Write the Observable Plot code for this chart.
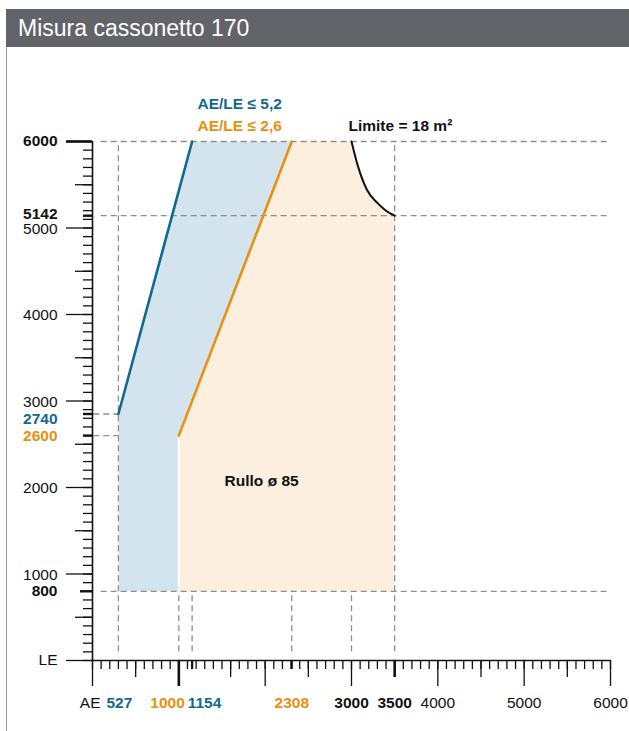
<!DOCTYPE html>
<html>
<head>
<meta charset="utf-8">
<script src="https://cdn.jsdelivr.net/npm/d3@7"></script>
<script src="https://cdn.jsdelivr.net/npm/@observablehq/plot@0.6"></script>
<style>
  html, body { margin: 0; padding: 0; background: #fff; }
  #page { position: relative; width: 629px; height: 731px; overflow: hidden; font-family: 'Liberation Sans', Arial, Helvetica, sans-serif; }
  #title { position: absolute; left: 6px; top: 9px; right: 0; height: 38px; background: #636469; color: #fff;
           font-size: 23px; line-height: 38px; padding-left: 12px; box-sizing: border-box; }
  #edge { position: absolute; left: 6px; top: 47px; bottom: 0; width: 1px; background: #9a9a9a; }
  #chart { position: absolute; left: 0; top: 47px; }
</style>
</head>
<body>
<div id="page">
  <div id="title">Misura cassonetto 170</div>
  <div id="edge"></div>
  <div id="chart"></div>
</div>
<script>
// ---- data ----
// LE (height) values marked on the vertical axis, and where the drawing places them
const leMarked       = [6000, 5142, 2740, 2600, 800];
const leMarkedDrawn  = [6000, 5142, 2850, 2600, 800];   // 2740 is drawn off-scale (about 2850)
const leRoundLabels  = [1000, 2000, 3000, 4000, 5000];
// AE (width) values marked on the horizontal axis, and where the drawing places them
const aeMarked       = [527, 1000, 1154, 2308, 3000, 3500];
const aeMarkedDrawn  = [300, 1000, 1154, 2308, 3000, 3500]; // 527 is drawn off-scale (about 300)
const aeRoundLabels  = [4000, 5000, 6000];
// ratio limit lines
const blueLineAE   = [300, 1154];   // AE/LE <= 5,2
const blueLineLE   = [2850, 6000];
const orangeLineAE = [1000, 2308];  // AE/LE <= 2,6
const orangeLineLE = [2600, 6000];
// area limit (18 m²) curve
const limitAE = [3000, 3070, 3180, 3300, 3400, 3500];
const limitLE = [6000, 5730, 5440, 5290, 5200, 5142];
// axis ticks
const minorTicks  = d3.range(0, 6001, 100);
const yMediumTicks = [500, 1500, 2500, 3500, 4500, 5500];
const xMediumTicks = [500, 1600, 2500, 3500, 4500, 5500];
const majorTicks  = d3.range(0, 6001, 1000);
const texts = {
  blue: "AE/LE \u2264 5,2",
  orange: "AE/LE \u2264 2,6",
  limit: "Limite = 18 m\u00B2",
  roll: "Rullo \u00F8 85"
};

// ---- build shapes from the arrays ----
const pt = (x, y) => ({x, y});
const bottomLE = leMarkedDrawn[4];              // 800
const blueArea = [
  pt(blueLineAE[0], bottomLE), pt(blueLineAE[0], blueLineLE[0]), pt(blueLineAE[1], blueLineLE[1]),
  pt(orangeLineAE[1], orangeLineLE[1]), pt(orangeLineAE[0], orangeLineLE[0]), pt(orangeLineAE[0], bottomLE)
];
const orangeArea = [
  pt(orangeLineAE[0], bottomLE), pt(orangeLineAE[0], orangeLineLE[0]), pt(orangeLineAE[1], orangeLineLE[1]),
  ...limitAE.map((a, i) => pt(a, limitLE[i])),
  pt(limitAE[limitAE.length - 1], bottomLE)
];
const blueLine = blueLineAE.map((a, i) => pt(a, blueLineLE[i]));
const orangeLine = orangeLineAE.map((a, i) => pt(a, orangeLineLE[i]));
const limitLine = limitAE.map((a, i) => pt(a, limitLE[i]));

const BLUE = "#12698f", ORANGE = "#e8900f", BLUEFILL = "#d4e4ef", ORANGEFILL = "#fcefdf", GRID = "#8e8e8e", INK = "#111";
const font = "'Liberation Sans', Arial, Helvetica, sans-serif";
const dash = {stroke: GRID, strokeWidth: 1.3, strokeDasharray: "6,4"};

const xLab = (vals, text, o) => Plot.text(vals, {x: d => d, y: () => 0, text, dy: 43, fontSize: 15.5, ...o});
const yLab = (vals, text, o) => Plot.text(vals, {x: () => 0, y: d => d, text, dx: -35, textAnchor: "end", fontSize: 15.5, ...o});

const chart = Plot.plot({
  width: 629, height: 684,
  marginTop: 94, marginBottom: 71, marginLeft: 92, marginRight: 19,
  x: {domain: [0, 6000]},
  y: {domain: [0, 6000]},
  style: {fontFamily: font, background: "transparent", overflow: "visible", color: INK},
  marks: [
    // regions
    Plot.line(blueArea, {x: "x", y: "y", fill: BLUEFILL, stroke: "none"}),
    Plot.line(orangeArea, {x: "x", y: "y", fill: ORANGEFILL, stroke: "none"}),
    Plot.ruleX([orangeLineAE[0]], {y1: bottomLE, y2: orangeLineLE[0], stroke: "#fff", strokeWidth: 2}),
    // dashed guides
    Plot.ruleY([leMarkedDrawn[0], leMarkedDrawn[1], bottomLE], {x1: 100, x2: 5960, ...dash}),
    Plot.ruleY([leMarkedDrawn[2], leMarkedDrawn[3]], {x1: 15, x2: aeMarkedDrawn[0], ...dash}),
    Plot.ruleX([aeMarkedDrawn[0], aeMarkedDrawn[5]], {y1: 100, y2: 6000, ...dash}),
    Plot.ruleX([aeMarkedDrawn[1], aeMarkedDrawn[2], aeMarkedDrawn[3], aeMarkedDrawn[4]], {y1: 100, y2: bottomLE, ...dash}),
    // limit lines
    Plot.line(blueLine, {x: "x", y: "y", stroke: BLUE, strokeWidth: 2.6}),
    Plot.line(orangeLine, {x: "x", y: "y", stroke: ORANGE, strokeWidth: 2.6}),
    Plot.line(limitLine, {x: "x", y: "y", stroke: INK, strokeWidth: 2, curve: "monotone-x"}),
    // axes lines
    Plot.ruleX([0], {y1: 0, y2: 6000, stroke: INK, strokeWidth: 1.6}),
    Plot.ruleY([0], {x1: 0, x2: 6000, stroke: INK, strokeWidth: 1.6}),
    // y ticks
    Plot.axisY(minorTicks, {anchor: "left", tickSize: 9, tickFormat: () => "", label: null, stroke: INK, strokeWidth: 1.3}),
    Plot.axisY(yMediumTicks, {anchor: "left", tickSize: 17, tickFormat: () => "", label: null, stroke: INK, strokeWidth: 1.3}),
    Plot.axisY(majorTicks, {anchor: "left", tickSize: 26, tickFormat: () => "", label: null, stroke: INK, strokeWidth: 1.3}),
    Plot.axisY([6000], {anchor: "left", tickSize: 26, tickFormat: () => "", label: null, stroke: INK, strokeWidth: 2.6}),
    Plot.axisY([800], {anchor: "left", tickSize: 12, tickFormat: () => "", label: null, stroke: INK, strokeWidth: 2.4}),
    Plot.axisY([5142, 2850, 2600], {anchor: "left", tickSize: 9, tickFormat: () => "", label: null, stroke: INK, strokeWidth: 2.4}),
    // x ticks
    Plot.axisX(minorTicks, {anchor: "bottom", tickSize: 9, tickFormat: () => "", label: null, stroke: INK, strokeWidth: 1.3}),
    Plot.axisX(xMediumTicks, {anchor: "bottom", tickSize: 17, tickFormat: () => "", label: null, stroke: INK, strokeWidth: 1.3}),
    Plot.axisX(majorTicks, {anchor: "bottom", tickSize: 26, tickFormat: () => "", label: null, stroke: INK, strokeWidth: 1.3}),
    Plot.axisX([1000], {anchor: "bottom", tickSize: 26, tickFormat: () => "", label: null, stroke: INK, strokeWidth: 2.6}),
    Plot.axisX([3500], {anchor: "bottom", tickSize: 17, tickFormat: () => "", label: null, stroke: INK, strokeWidth: 2.6}),
    Plot.axisX([1154, 2308], {anchor: "bottom", tickSize: 9, tickFormat: () => "", label: null, stroke: INK, strokeWidth: 2.2}),
    // y labels
    yLab([leMarkedDrawn[0], leMarkedDrawn[4]], (d, i) => String([leMarked[0], leMarked[4]][i]), {fontWeight: "bold", fill: INK}),
    yLab([leMarkedDrawn[1]], () => String(leMarked[1]), {fontWeight: "bold", fill: INK, dy: -2}),
    yLab(leRoundLabels, d => String(d), {fill: INK, dy: 1}),
    yLab([leMarkedDrawn[2]], () => String(leMarked[2]), {fontWeight: "bold", fill: BLUE, dy: 5}),
    yLab([leMarkedDrawn[3]], () => String(leMarked[3]), {fontWeight: "bold", fill: ORANGE}),
    yLab([0], () => "LE", {fill: INK}),
    // x labels
    xLab([0], () => "AE", {textAnchor: "end", dx: 8, fill: INK}),
    xLab([aeMarkedDrawn[0]], () => String(aeMarked[0]), {fontWeight: "bold", fill: BLUE, dx: 1}),
    xLab([aeMarkedDrawn[1]], () => String(aeMarked[1]), {fontWeight: "bold", fill: ORANGE, textAnchor: "end", dx: 6}),
    xLab([aeMarkedDrawn[2]], () => String(aeMarked[2]), {fontWeight: "bold", fill: BLUE, textAnchor: "start", dx: -4.5}),
    xLab([aeMarkedDrawn[3]], () => String(aeMarked[3]), {fontWeight: "bold", fill: ORANGE}),
    xLab([aeMarkedDrawn[4], aeMarkedDrawn[5]], (d, i) => String([aeMarked[4], aeMarked[5]][i]), {fontWeight: "bold", fill: INK}),
    xLab(aeRoundLabels, d => String(d), {fill: INK}),
    // annotations
    Plot.text([texts.blue], {text: d => d, frameAnchor: "top-left", dx: 105, dy: -44, textAnchor: "start", fontWeight: "bold", fontSize: 15.5, fill: BLUE}),
    Plot.text([texts.orange], {text: d => d, frameAnchor: "top-left", dx: 105, dy: -22, textAnchor: "start", fontWeight: "bold", fontSize: 15.5, fill: ORANGE}),
    Plot.text([texts.limit], {text: d => d, frameAnchor: "top-left", dx: 256, dy: -22, textAnchor: "start", fontWeight: "bold", fontSize: 15.5, fill: INK}),
    Plot.text([texts.roll], {text: d => d, x: () => 1530, y: () => 2070, textAnchor: "start", fontWeight: "bold", fontSize: 15.5, fill: INK})
  ]
});
document.getElementById("chart").appendChild(chart);
</script>
</body>
</html>
